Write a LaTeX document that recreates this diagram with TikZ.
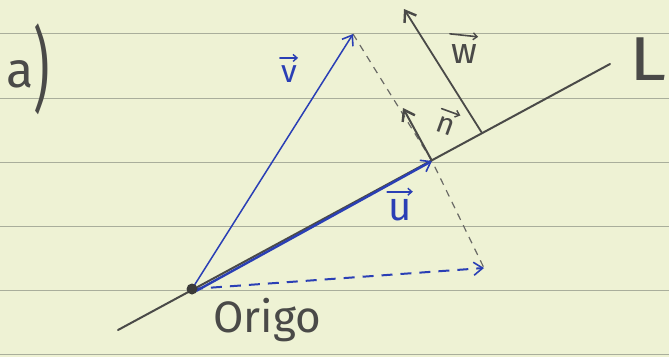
\documentclass[tikz,border=0pt]{standalone}
\usepackage{fontspec}
\setmainfont{Fira Sans}
\usetikzlibrary{arrows.meta}
\definecolor{paper}{HTML}{EEF2D4}
\definecolor{rule}{HTML}{A9AE9B}
\definecolor{ink}{HTML}{2A3FB5}
\definecolor{pencil}{HTML}{4A4A48}
\definecolor{dashgray}{HTML}{6A6A66}
\begin{document}
\begin{tikzpicture}[x=1pt,y=-1pt,
  ruled/.style={draw=rule,line width=1pt},
  lineL/.style={draw=pencil,line width=2pt,line cap=round},
  bluevec/.style={draw=ink,line width=1.5pt,-{Straight Barb[length=9pt,width=13pt,line width=1.6pt]}},
  greyvec/.style={draw=pencil,line width=2pt,-{Straight Barb[length=10pt,width=14pt,line width=2.4pt]}},
  helper/.style={draw=dashgray,line width=1.2pt,dash pattern=on 7pt off 6pt},
  hand/.style={text=pencil,inner xsep=0pt,inner ysep=0pt},
  veclab/.style={inner xsep=1pt,inner ysep=7pt},
  labarrow/.style={line width=1.6pt,line cap=round,-{Straight Barb[length=4pt,width=7pt,line width=1.4pt]}}]
\fill[paper] (0,0) rectangle (669,357);
\useasboundingbox (0,0) rectangle (669,357);
\foreach \yy in {33,98,162,226,290,354} \path[ruled] (0,\yy) -- (669,\yy);
% named points
\coordinate (Ls) at (118,330);
\coordinate (Le) at (610,64);
\coordinate (O) at (192,289);
\coordinate (U) at (432,161);
\coordinate (Ub) at (196,291);
\coordinate (Nt) at (403,108);
\coordinate (Wb) at (482,133);
\coordinate (Wt) at (404,9);
\coordinate (V) at (353,34);
\coordinate (R) at (484,268);
% line L
\path[lineL] (Ls) -- (Le);
% helper dashed lines
\path[helper] (V) -- (U) -- (R);
% vectors
\path[bluevec] (O) -- (V);
\path[bluevec,line width=2.4pt] (Ub) -- (U);
\path[bluevec,line width=2pt,dash pattern=on 11pt off 8pt] (O) -- (R);
\path[greyvec] (U) -- (Nt);
\path[greyvec,line width=1.8pt] (Wb) -- (Wt);
\fill[pencil!80!black] (O) circle (5.5);
% labels
\node[hand,font=\fontsize{50}{50}\selectfont,anchor=base west] (a) at (6,87) {a{\fontsize{92}{92}\selectfont\raisebox{-14pt}{\scalebox{0.55}[1]{)}}}};
\node[hand,font=\fontsize{62}{62}\selectfont,anchor=base west] (L) at (629,80) {\scalebox{1.2}[1]{L}};
\node[hand,font=\fontsize{44}{44}\selectfont,anchor=base west] (origo) at (213,332) {Origo};
\node[veclab,text=ink,font=\fontsize{40}{40}\selectfont,anchor=base] (lu) at (400,220) {u};
\node[veclab,text=ink,font=\fontsize{32}{32}\selectfont,anchor=base] (lv) at (289,82) {v};
\node[veclab,text=pencil,font=\fontsize{30}{30}\selectfont,rotate=-20,anchor=base] (ln) at (443,134) {n};
\node[veclab,text=pencil,font=\fontsize{36}{36}\selectfont,anchor=base] (lw) at (464,63) {w};
\path[labarrow,draw=ink] (lu.north west) -- (lu.north east);
\path[labarrow,draw=ink] (lv.north west) -- (lv.north east);
\path[labarrow,draw=pencil] (ln.north west) -- (ln.north east);
\path[labarrow,draw=pencil] ([yshift=3pt]lw.north west) -- (lw.north east);
\end{tikzpicture}
\end{document}
